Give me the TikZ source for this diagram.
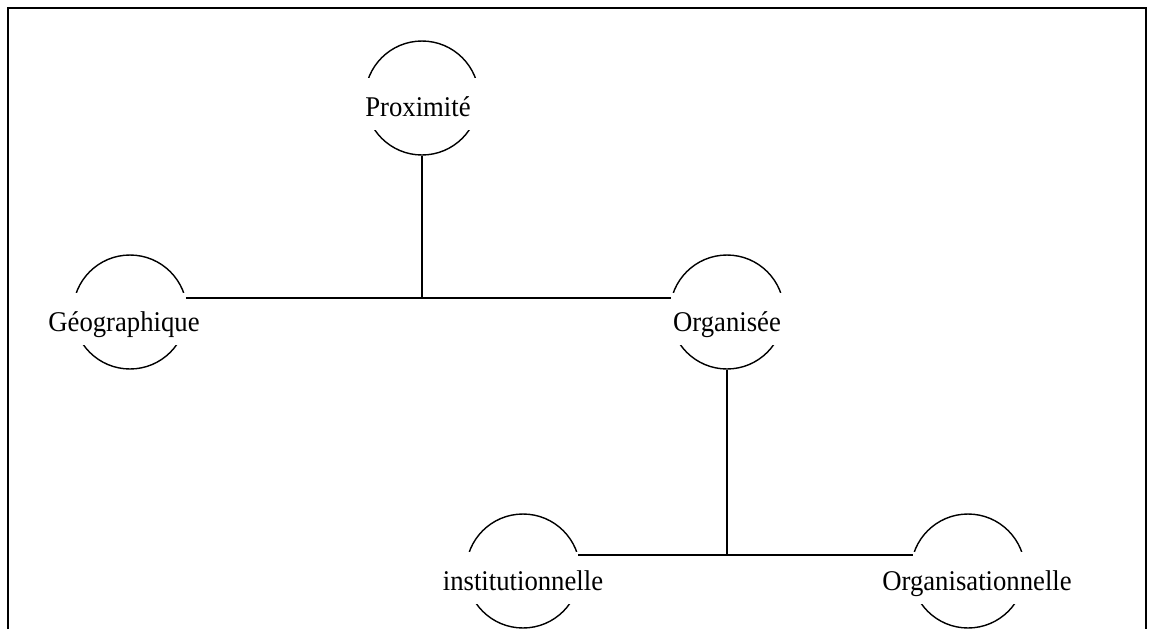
\documentclass[tikz,border=0pt]{standalone}
\usepackage{fontspec}
\setmainfont{Liberation Serif}
\newcommand{\tallword}[1]{\scalebox{1}[1.07]{#1}}
\tikzset{
	ring/.style={circle, draw, line width=0.8pt, minimum size=2.28cm, inner sep=0pt},
	label/.style={fill=white, inner sep=0pt, minimum width=4.2cm, minimum height=1.04cm, text height=18.7pt, text depth=4pt, font=\fontsize{15.2}{18}\selectfont},
	link/.style={line width=1.2pt}
}
\begin{document}
\begin{tikzpicture}[x=0.02cm, y=-0.02cm]
				\useasboundingbox (0, 0) rectangle (1156, 629);
				%%frame
				\draw[line width=1.1pt](8, 629) -- (8, 8) -- (1146, 8) -- (1146, 629);

				%%the rings
				\node[ring] (proxc) at (422, 98){};
				\node[ring] (geoc) at (130, 312){};
				\node[ring] (orgc) at (727, 312){};
				\node[ring] (instc) at (523, 571){};
				\node[ring] (orgnc) at (968, 571){};

				%%the words
				\node[label] (prox) at (418, 104){\tallword{Proximité}};
				\node[label] (geo) at (124, 319){\tallword{Géographique}};
				\node[label] (org) at (727, 319){\tallword{Organisée}};
				\node[label] (inst) at (523, 578){\tallword{institutionnelle}};
				\node[label] (orgn) at (977, 578){\tallword{Organisationnelle}};

				%%first level
				\draw[link](geoc.14) -- (orgc.166);
				\draw[link](proxc.south) -- (proxc.south |- geoc.14);

				%%second level
				\draw[link](instc.16) -- (orgnc.164);
				\draw[link](orgc.south) -- (orgc.south |- instc.16);
			\end{tikzpicture}
\end{document}
